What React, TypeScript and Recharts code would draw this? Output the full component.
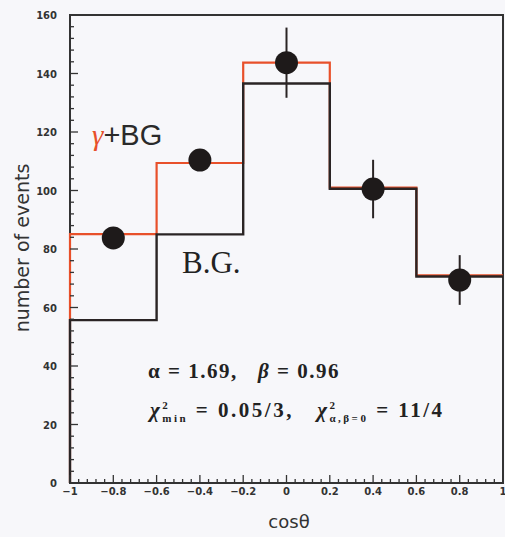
import { ReactElement } from 'react';
import { ComposedChart, Line, Scatter, XAxis, YAxis, ErrorBar, Customized } from 'recharts';

// bin edges of cos(theta) and bin contents
const binEdges = [-1, -0.6, -0.2, 0.2, 0.6, 1];
const signalBg = [85.1, 109.4, 143.7, 101, 71];
const bgOnly = [55.7, 85, 136.6, 100.6, 70.6];

// measured points
const pointX = [-0.8, -0.4, 0, 0.4, 0.8];
const pointY = [83.8, 110.4, 143.7, 100.5, 69.4];
const pointErr = [0, 0, 12, 10, 8.5];

const xTicks: number[] = [];
for (let i = 0; i <= 50; i += 1) xTicks.push(Math.round((-1 + i * 0.04) * 100) / 100);
const yTicks: number[] = [];
for (let i = 0; i <= 40; i += 1) yTicks.push(i * 4);

const histRows = (vals: number[]) => {
  const rows = [{ x: binEdges[0], v: 0 }];
  vals.forEach((v, i) => rows.push({ x: binEdges[i], v }));
  rows.push({ x: binEdges[binEdges.length - 1], v: vals[vals.length - 1] });
  return rows;
};
const redRows = histRows(signalBg);
const blackRows = histRows(bgOnly);
const pts = pointX.map((x, i) => ({ x, v: pointY[i], e: pointErr[i] }));

const PLOT_L = 70;
const PLOT_B = 483;

const isMajorX = (v: number) => Math.abs(Math.round(v * 5) - v * 5) < 1e-6;
const fmtX = (v: number) => {
  if (Math.abs(v) < 1e-9) return '0';
  return v < 0 ? '\u2212' + String(-v) : String(v);
};

const XTick = (props: any): ReactElement => {
  const { x, payload } = props;
  const major = isMajorX(payload.value);
  return (
    <g>
      <line x1={x} x2={x} y1={PLOT_B} y2={PLOT_B - (major ? 8 : 4)} stroke="#333" strokeWidth={1.3} />
      {major && (
        <text x={x} y={PLOT_B + 12} textAnchor="middle" fontSize={10} fontWeight="bold" fill="#333" fontFamily="DejaVu Sans">
          {fmtX(payload.value)}
        </text>
      )}
    </g>
  );
};

const YTick = (props: any): ReactElement => {
  const { y, payload } = props;
  const major = payload.value % 20 === 0;
  return (
    <g>
      <line x1={PLOT_L} x2={PLOT_L + (major ? 8 : 4)} y1={y} y2={y} stroke="#333" strokeWidth={1.3} />
      {major && (
        <text x={PLOT_L - 13} y={y + 4} textAnchor="end" fontSize={10} fontWeight="bold" fill="#333" fontFamily="DejaVu Sans">
          {payload.value}
        </text>
      )}
    </g>
  );
};

const Dot = (props: any): ReactElement => {
  const { cx, cy } = props;
  return <circle cx={cx} cy={cy} r={11.5} fill="#1e1a1a" />;
};

const Frame = (): ReactElement => (
  <g>
    <rect x={PLOT_L} y={15} width={433} height={468} fill="none" stroke="#333" strokeWidth={2} />
  </g>
);

const annot = { fontFamily: 'Liberation Serif', fontSize: 21, color: '#222', fontWeight: 'bold' as const, whiteSpace: 'nowrap' as const, letterSpacing: 1.5 };

export default function App(): ReactElement {
  return (
    <div style={{ position: 'absolute', left: 0, top: 0, width: 505, height: 537, background: '#f7f7fa' }}>
      <ComposedChart width={505} height={537} margin={{ top: 15, right: 2, left: 10, bottom: 10 }}>
        <XAxis
          type="number"
          dataKey="x"
          domain={[-1, 1]}
          ticks={xTicks}
          interval={0}
          tick={<XTick />}
          tickLine={false}
          axisLine={false}
          height={44}
          allowDuplicatedCategory={false}
        />
        <YAxis
          type="number"
          dataKey="v"
          domain={[0, 160]}
          ticks={yTicks}
          interval={0}
          tick={<YTick />}
          tickLine={false}
          axisLine={false}
          width={60}
        />
        <Line data={redRows} dataKey="v" type="stepAfter" stroke="#e8502a" strokeWidth={2.2} dot={false} isAnimationActive={false} />
        <Line data={blackRows} dataKey="v" type="stepAfter" stroke="#2a2424" strokeWidth={2.4} dot={false} isAnimationActive={false} />
        <Scatter data={pts} dataKey="v" shape={<Dot />} isAnimationActive={false}>
          <ErrorBar dataKey="e" direction="y" width={0} stroke="#2a2424" strokeWidth={2} />
        </Scatter>
        <Customized component={Frame} />
      </ComposedChart>
      <div style={{ position: 'absolute', left: 92, top: 119, fontFamily: 'Liberation Sans, Arial', fontSize: 29, color: '#2a2a2a', whiteSpace: 'nowrap' }}>
        <span style={{ color: '#e8502a', fontFamily: 'Liberation Serif', fontStyle: 'italic' }}>γ</span>+BG
      </div>
      <div style={{ position: 'absolute', left: 182, top: 245, fontFamily: 'Liberation Serif', fontSize: 31, color: '#222' }}>B.G.</div>
      <div style={{ ...annot, position: 'absolute', left: 148, top: 359 }}>
        α = 1.69,&nbsp;&nbsp;&nbsp;<i>β</i> = 0.96
      </div>
      <div style={{ ...annot, position: 'absolute', left: 150, top: 398, letterSpacing: 2.5 }}>
        <i>χ</i>
        <sup style={{ fontSize: 11 }}>2</sup>
        <sub style={{ fontSize: 11, marginLeft: -8 }}>min</sub> = 0.05/3,&nbsp;&nbsp;&nbsp;
        <i>χ</i>
        <sup style={{ fontSize: 11 }}>2</sup>
        <sub style={{ fontSize: 11, marginLeft: -8 }}>α,β=0</sub> = 11/4
      </div>
      <div
        style={{
          position: 'absolute',
          left: 22,
          top: 248,
          transform: 'translate(-50%, -50%) rotate(-90deg)',
          fontFamily: 'DejaVu Sans',
          fontSize: 19,
          color: '#333',
          whiteSpace: 'nowrap',
        }}
      >
        number of events
      </div>
      <div style={{ position: 'absolute', left: 289, top: 521, transform: 'translate(-50%, -50%)', fontFamily: 'DejaVu Sans', fontSize: 18, color: '#333' }}>
        cosθ
      </div>
    </div>
  );
}
